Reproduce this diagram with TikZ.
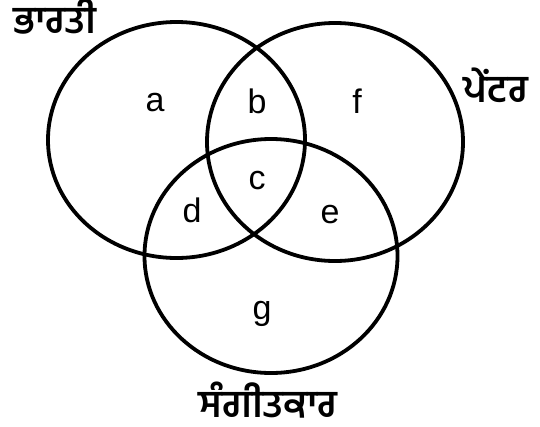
\documentclass[tikz,border=0pt]{standalone}
\usepackage{fontspec}
\setmainfont{Liberation Sans}
\newfontfamily\gurfont[Script=Gurmukhi]{Hind Jalandhar}
\begin{document}
\begin{tikzpicture}[x=1pt,y=-1pt,
  setline/.style={line width=3.8pt,draw=black},
  letter/.style={font=\fontsize{34}{36}\selectfont,inner sep=0pt},
  setname/.style={font=\gurfont\bfseries\fontsize{38}{42}\selectfont,inner sep=0pt,anchor=base,text depth=0pt}]
\useasboundingbox (0,0) rectangle (540,426);
\draw[setline] (176.5,140) ellipse [x radius=128.5, y radius=118];
\draw[setline] (335,142) ellipse [x radius=128, y radius=119];
\draw[setline] (271,256) ellipse [x radius=126.5, y radius=117];
\node[letter] (a) at (155,103) {a};
\node[letter] (b) at (257,101) {b};
\node[letter] (f) at (357,101) {f};
\node[letter] (c) at (257,181) {c};
\node[letter] (d) at (192,210) {d};
\node[letter] (e) at (330,215) {e};
\node[letter] (g) at (262,314) {g};
\node[setname] (bharti) at (55,33) {ਭਾਰਤੀ};
\node[setname] (painter) at (496,102) {ਪੇਂਟਰ};
\node[setname] (sangeet) at (268,417) {ਸੰਗੀਤਕਾਰ};
\end{tikzpicture}
\end{document}
